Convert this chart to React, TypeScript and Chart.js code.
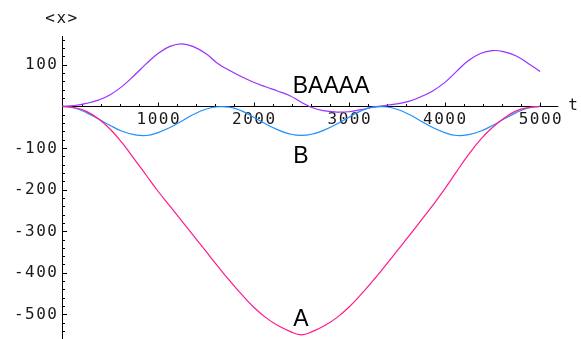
import React, { useEffect, useRef } from "react";
import { Chart, registerables } from "chart.js";

Chart.register(...registerables);

// ---- data ----
const tValues = [
  0, 125, 250, 375, 500, 625, 750, 875, 1000, 1125, 1250, 1375, 1500, 1625, 1750, 1875, 2000,
  2125, 2250, 2375, 2500, 2625, 2750, 2875, 3000, 3125, 3250, 3375, 3500, 3625, 3750, 3875,
  4000, 4125, 4250, 4375, 4500, 4625, 4750, 4875, 5000,
];

const seriesA = [
  0, -3, -12, -30, -55, -88, -126, -165, -204, -240, -276, -312, -348, -384, -419, -452, -482,
  -507, -526, -540, -549, -540, -526, -507, -482, -452, -419, -384, -348, -312, -275, -238,
  -199, -157, -116, -80, -51, -28, -11, -3, 0,
];

const seriesB = [
  0, -4, -15, -30, -46, -60, -68, -70, -63, -51, -35, -19, -7, -1, -2, -11, -26,
  -42, -56, -66, -70, -66, -56, -42, -26, -11, -2, -1, -7, -19, -35, -51,
  -63, -70, -68, -60, -46, -30, -15, -4, 0,
];

const seriesBAAAA = [
  0, 2, 7, 15, 28, 48, 74, 102, 127, 144, 150, 143, 127, 103, 86, 71, 58,
  47, 37, 26, 10, -4, -11, -14, -13, -8, -2, 2, 6, 12, 23, 37,
  57, 84, 110, 127, 134, 131, 121, 103, 84,
];

const seriesNames = ["A", "B", "BAAAA"];
const seriesColors = ["#ff1a8c", "#1e90ff", "#9b30ff"];

const xMajorTicks = [1000, 2000, 3000, 4000, 5000];
const xMinorTicks = Array.from({ length: 26 }, (_, i) => i * 200).filter((v) => v % 1000 !== 0);
const yMajorTicks = [100, -100, -200, -300, -400, -500];
const yMinorTicks = Array.from({ length: 36 }, (_, i) => 160 - i * 20).filter((v) => v % 100 !== 0);

const labelTexts = ["A", "B", "BAAAA"];
const labelT = [2497, 2497, 2812];
const labelV = [-508.5, -115.8, 51.2];

const xAxisTitle = "t";
const yAxisTitle = "<x>";

const X_MIN = 0;
const X_MAX = 5190;
const Y_MIN = -559;
const Y_MAX = 169;

const TICK_FONT = "16px 'DejaVu Sans Mono', monospace";
const LABEL_FONT = "23px 'Liberation Sans', Arial, sans-serif";

const axesPlugin = {
  id: "mmaAxes",
  beforeDatasetsDraw(chart: any) {
    const ctx: CanvasRenderingContext2D = chart.ctx;
    const xs = chart.scales.x;
    const ys = chart.scales.y;
    const area = chart.chartArea;
    const x0 = xs.getPixelForValue(0);
    const y0 = ys.getPixelForValue(0);
    ctx.save();
    ctx.strokeStyle = "#000";
    ctx.lineWidth = 1;
    // axis lines
    ctx.beginPath();
    ctx.moveTo(x0, area.top);
    ctx.lineTo(x0, area.bottom);
    ctx.moveTo(x0, Math.round(y0) + 0.5);
    ctx.lineTo(area.right, Math.round(y0) + 0.5);
    ctx.stroke();
    // x ticks (pointing up)
    ctx.beginPath();
    const yl = Math.round(y0) + 0.5;
    for (const t of xMinorTicks) {
      const px = Math.round(xs.getPixelForValue(t)) + 0.5;
      ctx.moveTo(px, yl);
      ctx.lineTo(px, yl - 2.5);
    }
    for (const t of xMajorTicks) {
      const px = Math.round(xs.getPixelForValue(t)) + 0.5;
      ctx.moveTo(px, yl);
      ctx.lineTo(px, yl - 4);
    }
    // y ticks (pointing right)
    for (const v of yMinorTicks) {
      const py = Math.round(ys.getPixelForValue(v)) + 0.5;
      ctx.moveTo(x0, py);
      ctx.lineTo(x0 + 2.5, py);
    }
    for (const v of yMajorTicks) {
      const py = Math.round(ys.getPixelForValue(v)) + 0.5;
      ctx.moveTo(x0, py);
      ctx.lineTo(x0 + 4.5, py);
    }
    ctx.stroke();

    // tick labels
    ctx.fillStyle = "#1a1a1a";
    ctx.font = TICK_FONT;
    (ctx as any).letterSpacing = "1.5px";
    ctx.textBaseline = "middle";
    ctx.textAlign = "center";
    for (const t of xMajorTicks) {
      ctx.fillText(String(t), xs.getPixelForValue(t) + 0.75, y0 + 13.5);
    }
    ctx.textAlign = "right";
    for (const v of yMajorTicks) {
      ctx.fillText(String(v), x0 - 4, ys.getPixelForValue(v) + 0.5);
    }
    ctx.textAlign = "center";
    ctx.fillText(yAxisTitle, x0 - 0.5, 18.5);
    ctx.fillText(xAxisTitle, area.right + 15.5, y0);
    (ctx as any).letterSpacing = "0px";
    ctx.restore();
  },
  afterDatasetsDraw(chart: any) {
    const ctx: CanvasRenderingContext2D = chart.ctx;
    const xs = chart.scales.x;
    const ys = chart.scales.y;
    ctx.save();
    ctx.fillStyle = "#000";
    ctx.font = LABEL_FONT;
    ctx.textAlign = "center";
    ctx.textBaseline = "alphabetic";
    for (let i = 0; i < labelTexts.length; i++) {
      ctx.fillText(labelTexts[i], xs.getPixelForValue(labelT[i]), ys.getPixelForValue(labelV[i]) + 8.3);
    }
    ctx.restore();
  },
};

export default function App() {
  const ref = useRef<HTMLCanvasElement>(null);
  useEffect(() => {
    const canvas = ref.current;
    if (!canvas) return;
    const allSeries = [seriesA, seriesB, seriesBAAAA];
    const chart = new Chart(canvas, {
      type: "line",
      data: {
        datasets: allSeries.map((s, k) => ({
          label: seriesNames[k],
          data: tValues.map((t, i) => ({ x: t, y: s[i] })),
          borderColor: seriesColors[k],
          backgroundColor: seriesColors[k],
          borderWidth: 1.2,
          pointRadius: 0,
          fill: false,
          tension: 0.45,
          clip: false as any,
        })),
      },
      options: {
        responsive: false,
        animation: false,
        devicePixelRatio: 1,
        events: [],
        layout: { padding: { left: 62.5, right: 22.7, top: 36, bottom: 0 } },
        scales: {
          x: { type: "linear", min: X_MIN, max: X_MAX, display: false },
          y: { type: "linear", min: Y_MIN, max: Y_MAX, display: false },
        },
        plugins: {
          legend: { display: false },
          tooltip: { enabled: false },
        },
      },
      plugins: [axesPlugin],
    });
    return () => chart.destroy();
  }, []);
  return (
    <div style={{ position: "fixed", left: 0, top: 0, width: 581, height: 339, background: "#fff" }}>
      <canvas ref={ref} width={581} height={339} style={{ display: "block" }} />
    </div>
  );
}
